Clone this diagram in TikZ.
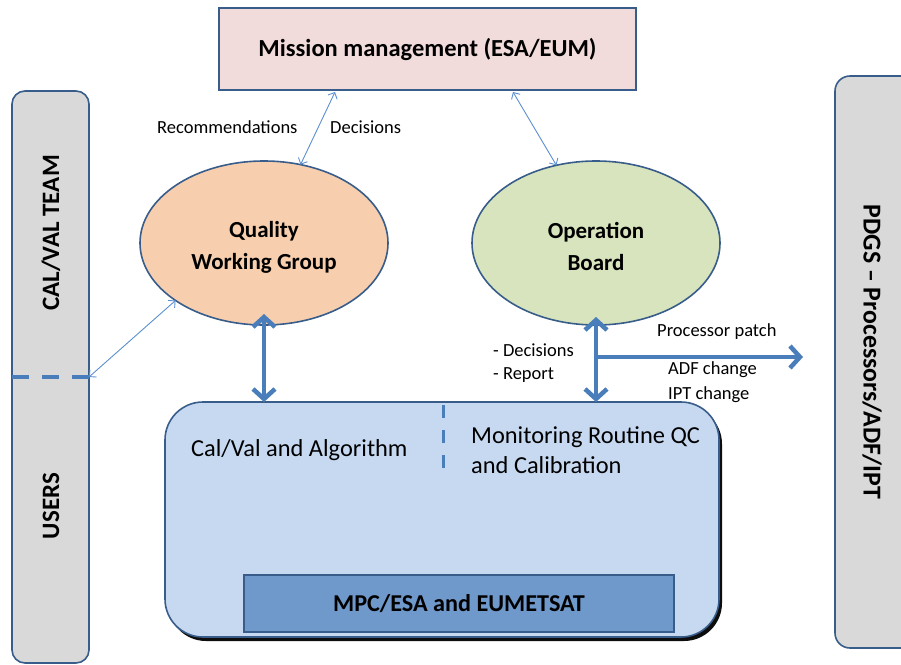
\documentclass[tikz,border=0pt]{standalone}
\usepackage{fontspec}
\setmainfont{Carlito}
\usetikzlibrary{arrows.meta,shapes.geometric,shadows,calc}
\definecolor{edge}{HTML}{385D8A}
\definecolor{arrowblue}{HTML}{4A7EBB}
\definecolor{thinblue}{HTML}{5B8FD0}
\definecolor{barfill}{HTML}{D9D9D9}
\definecolor{pinkfill}{HTML}{F2DCDB}
\definecolor{orangefill}{HTML}{F8CFAE}
\definecolor{greenfill}{HTML}{D7E4BD}
\definecolor{bigfill}{HTML}{C6D9F1}
\definecolor{innerfill}{HTML}{6F98CB}
\tikzset{
  sidebar/.style={draw=edge, line width=1.6pt, fill=barfill, rounded corners=13pt, minimum width=77pt, minimum height=572pt, inner sep=0pt, outer sep=0pt},
  sidetext/.style={font=\bfseries\fontsize{25}{30}\selectfont, inner sep=0pt},
  ell/.style={ellipse, draw=edge, line width=1.6pt, minimum width=248pt, minimum height=164pt, inner sep=0pt, outer sep=0pt},
  elltext/.style={align=center, inner sep=0pt, font=\bfseries\fontsize{23}{32}\selectfont},
  thinarrow/.style={draw=thinblue, line width=0.9pt, {Straight Barb[length=5pt,width=10pt]}-{Straight Barb[length=5pt,width=10pt]}},
  thickarrow/.style={draw=arrowblue, line width=4.5pt, {Straight Barb[length=10pt,width=22pt]}-{Straight Barb[length=10pt,width=22pt]}},
  thickone/.style={draw=arrowblue, line width=4.5pt, -{Straight Barb[length=10pt,width=22pt]}},
  lbl/.style={font=\fontsize{18.5}{25}\selectfont, inner sep=0pt, anchor=west},
  bigtext/.style={font=\fontsize{24.4}{30}\selectfont, inner sep=0pt, anchor=west, align=left},
  divider/.style={draw=arrowblue, line width=3pt},
}
\begin{document}
\begin{tikzpicture}[x=1pt,y=-1pt]
\clip (0,0) rectangle (901,664);
\useasboundingbox (0,0) rectangle (901,664);

% side bars
\node[sidebar] (lbar) at (50.5,377) {};
\node[sidetext, rotate=90] (calval) at (51,233) {CAL/VAL TEAM};
\node[sidetext, rotate=90] (users) at (51,506) {USERS};
\draw[divider, line width=4pt, dash pattern=on 17pt off 13pt] (lbar.west |- lbar.east) -- (lbar.east);

\node[sidebar, minimum width=90pt, rounded corners=15pt] (rbar) at (880,362) {};
\node[sidetext, font=\bfseries\fontsize{25.8}{30}\selectfont, rotate=-90] (pdgs) at (872,352) {PDGS – Processors/ADF/IPT};

% mission management
\node[draw=edge, line width=1.6pt, fill=pinkfill, minimum width=417pt, minimum height=82pt, inner sep=0pt, outer sep=0pt,
      font=\bfseries\fontsize{24.5}{30}\selectfont] (mm) at (427.5,49) {Mission management (ESA/EUM)};

% ellipses
\node[ell, fill=orangefill] (qwg) at (264,243) {};
\node[elltext] (qwgtext) at (264,247.5) {Quality\\Working Group};
\node[ell, fill=greenfill] (ob) at (596,243) {};
\node[elltext] (obtext) at (596,246.5) {Operation\\Board};

% big box
\node[draw=edge, line width=1.6pt, fill=bigfill, rounded corners=38pt, minimum width=554pt, minimum height=235pt, inner sep=0pt, outer sep=0pt,
      drop shadow={shadow xshift=3pt, shadow yshift=-4pt, opacity=0.95, fill=black}] (big) at (442,519.5) {};
\node[draw=edge, line width=1.4pt, fill=innerfill, minimum width=430pt, minimum height=57pt, inner sep=0pt, outer sep=0pt,
      font=\bfseries\fontsize{24.2}{30}\selectfont] (mpc) at (459,603.5) {MPC/ESA and EUMETSAT};
\draw[divider, dash pattern=on 13pt off 12pt] (443,405) -- (443,470);
\node[bigtext] (calalg) at (191,450) {Cal/Val and Algorithm};
\node[bigtext] (monit) at (471,450) {Monitoring Routine QC\\and Calibration};

% thin arrows
\draw[thinarrow] ($(mm.south west)+(116,2)$) -- (qwg.65);
\draw[thinarrow] ($(mm.south west)+(294,2)$) -- (ob.117);
\draw[thinarrow] (qwg.213) -- (lbar.east);
\node[lbl] (rec) at (157,127) {Recommendations};
\node[lbl] (dec) at (330,127) {Decisions};

% thick arrows
\draw[thickarrow] ([yshift=11pt]qwg.south) -- (qwg.south |- big.north);
\draw[thickarrow] ([yshift=8pt]ob.south) -- (ob.south |- big.north);
\coordinate (pdgsin) at (803,357);
\draw[thickone] (ob.south |- pdgsin) -- (pdgsin);

\node[lbl] (d1) at (493,350) {- Decisions};
\node[lbl] (d2) at (493,375) {- Report};
\node[lbl] (pp) at (657,332) {Processor patch};
\node[lbl] (adf) at (668,370) {ADF change};
\node[lbl] (ipt) at (668,395) {IPT change};
\end{tikzpicture}
\end{document}
